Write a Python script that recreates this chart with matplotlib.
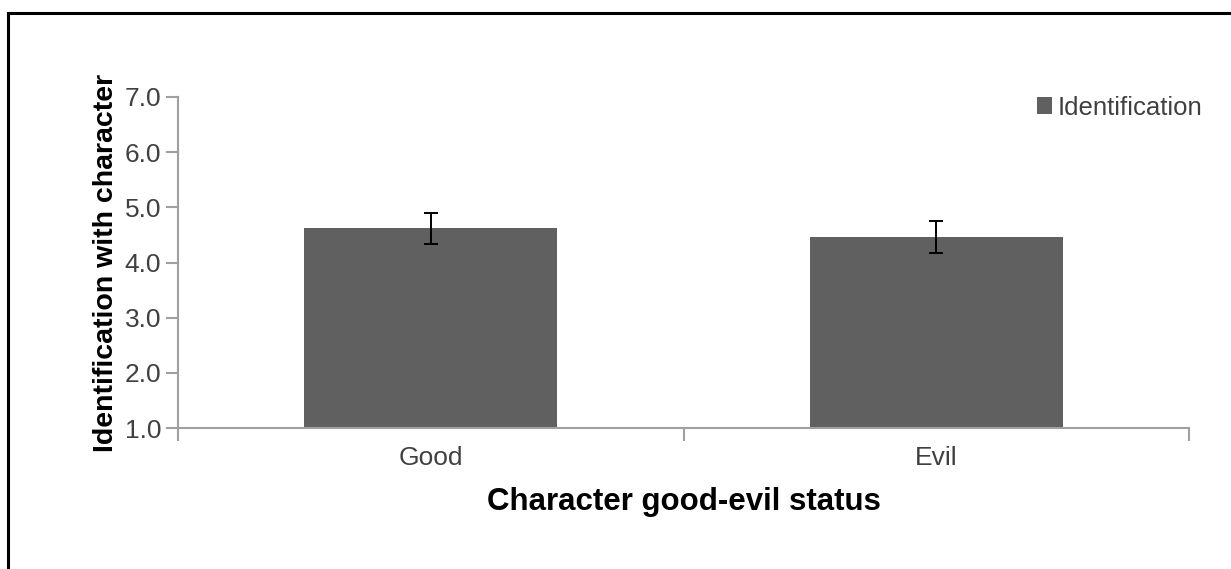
import matplotlib
matplotlib.use('Agg')
import matplotlib.pyplot as plt
from matplotlib.patches import Rectangle

categories = ['Good', 'Evil']
means = [4.62, 4.46]
errors = [0.28, 0.29]
y_ticks = [1.0, 2.0, 3.0, 4.0, 5.0, 6.0, 7.0]

plt.rcParams['font.family'] = ['Liberation Sans', 'DejaVu Sans']

W, H = 1231, 569
fig = plt.figure(figsize=(W / 100, H / 100), dpi=100)

# outer black frame (runs off the right and bottom edge)
fig.patches.append(Rectangle((8 / W, -0.1), 1.2, (H - 12.5) / H + 0.1,
                             transform=fig.transFigure, fill=False,
                             edgecolor='black', linewidth=2.2))

left, right = 178 / W, 1189 / W
bottom, top = 1 - 428 / H, 1 - 97 / H
ax = fig.add_axes([left, bottom, right - left, top - bottom])

axis_col = '#a0a0a0'
text_col = '#404040'

x = [0, 1]
bars = ax.bar(x, [m - 1.0 for m in means], bottom=1.0, width=0.5,
              color='#606060', label='Identification', zorder=2)
ax.errorbar(x, means, yerr=errors, fmt='none', ecolor='black',
            elinewidth=1.4, capsize=5, capthick=1.4, zorder=3)

ax.set_xlim(-0.5, 1.5)
ax.set_ylim(1.0, 7.0)
ax.set_yticks(y_ticks)
ax.set_yticklabels([f'{v:.1f}' for v in y_ticks])
ax.set_xticks([-0.5, 0.5, 1.5], minor=False)
ax.set_xticklabels(['', '', ''])
ax.set_xticks(x, minor=True)
ax.set_xticklabels(categories, minor=True)
ax.tick_params(axis='x', which='minor', length=0, pad=13,
               labelsize=19, labelcolor=text_col)
ax.tick_params(axis='x', which='major', length=9, width=1.5, color=axis_col)
ax.tick_params(axis='y', length=9, width=1.5, color=axis_col,
               labelsize=19, labelcolor=text_col, pad=3)

for s in ['top', 'right']:
    ax.spines[s].set_visible(False)
for s in ['left', 'bottom']:
    ax.spines[s].set_color(axis_col)
    ax.spines[s].set_linewidth(1.5)

ax.set_xlabel('Character good-evil status', fontsize=22.5, fontweight='bold',
              color='black', labelpad=12)
ax.set_ylabel('Identification with character', fontsize=20.5, fontweight='bold',
              color='black', labelpad=4)

leg = ax.legend(loc='upper right', bbox_to_anchor=(1.023, 1.035), frameon=False,
                fontsize=18.5, handlelength=0.6, handleheight=0.6,
                handletextpad=0.2, borderaxespad=0)
for t in leg.get_texts():
    t.set_color(text_col)

fig.savefig('out.png', dpi=100)
